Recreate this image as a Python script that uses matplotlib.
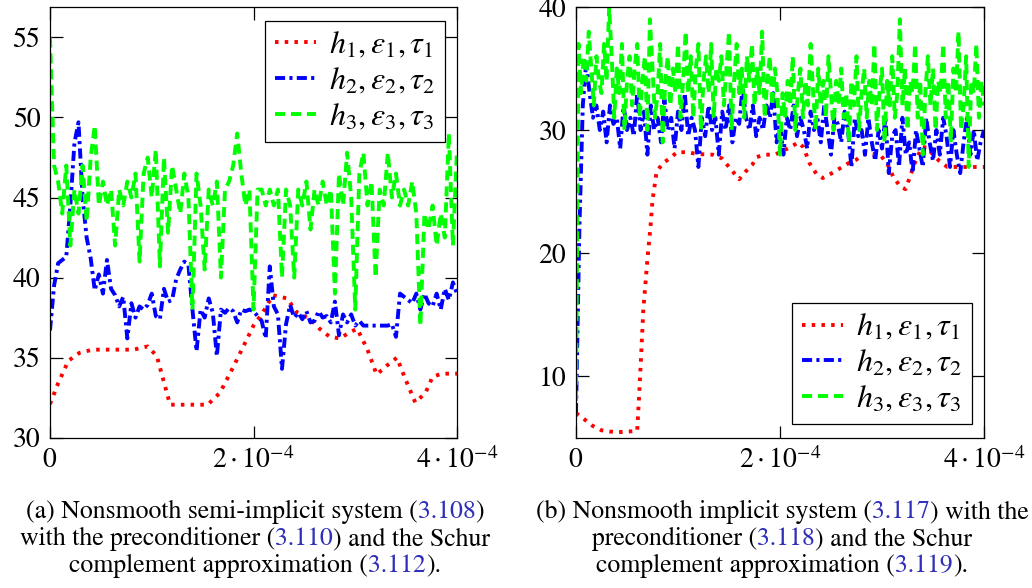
import numpy as np
import matplotlib
matplotlib.use('Agg')
import matplotlib.pyplot as plt

plt.rcParams['font.family'] = ['STIXGeneral', 'DejaVu Serif']
plt.rcParams['mathtext.fontset'] = 'stix'

# ---------------- data : panel (a) ----------------
red_a_x = [0, 0.08, 0.18, 0.29, 0.42, 0.82, 0.96, 1.05, 1.18, 1.55, 1.67, 1.80, 2.0, 2.09, 2.19,
           2.33, 2.43, 2.56, 2.65, 2.75, 2.85, 2.95, 3.02, 3.12, 3.21, 3.31, 3.41, 3.49, 3.59,
           3.69, 3.76, 3.85, 4.0]
red_a_y = [32.1, 33.4, 34.8, 35.3, 35.5, 35.5, 35.7, 35.1, 32.06, 32.06, 32.8, 34.4, 37.0, 37.8,
           38.9, 38.7, 37.8, 37.4, 36.8, 36.3, 36.2, 36.6, 36.8, 35.5, 33.95, 34.5, 35.0, 33.7,
           32.2, 32.8, 33.8, 34.0, 34.0]
blue_a = [36.7, 39.5, 40.9, 41.1, 41.3, 44.5, 48.4, 49.7, 45.0, 42.5, 41.2, 39.2, 40.2, 39.0,
          41.1, 39.3, 38.9, 38.2, 38.8, 36.2, 38.4, 37.5, 38.2, 38.0, 38.3, 39.0, 37.6, 37.4,
          39.3, 38.5, 38.6, 39.9, 40.5, 41.0, 40.8, 38.0, 35.4, 38.0, 37.5, 38.7, 37.8, 35.1,
          38.0, 37.8, 38.1, 37.9, 37.2, 38.0, 37.9, 38.0, 37.9, 37.6, 37.3, 36.2, 40.7, 38.2,
          37.7, 34.3, 37.1, 38.3, 37.5, 37.8, 37.4, 37.9, 37.2, 37.3, 37.9, 37.5, 37.6, 37.2,
          38.5, 36.4, 37.7, 37.2, 37.7, 37.0, 37.3, 37.0, 37.0, 37.0, 37.0, 37.0, 37.0, 37.0,
          37.1, 36.3, 39.0, 38.8, 38.6, 38.4, 39.0, 38.0, 39.0, 38.4, 38.2, 39.0, 38.0, 39.3,
          38.6, 39.7, 39.0]
green_a = [55, 47, 46, 44, 47, 42, 45.5, 44, 47, 43.5, 47.5, 49.5, 44.5, 46, 44.5, 45.5, 42,
           45.5, 44.5, 46, 45, 46.5, 41, 46.5, 47.5, 45, 48, 40.7, 47.5, 42.8, 47, 45.5, 44,
           46.5, 45, 38, 46.5, 44.5, 40.5, 45.5, 44.5, 46, 40, 45.5, 46, 47, 49, 46.5, 44.5,
           45.5, 38, 45.5, 45.5, 44.5, 45.5, 44.5, 45.5, 40, 45.5, 44.5, 40, 45.5, 44.5, 46,
           43, 45.5, 44.5, 46, 44.5, 45.5, 39, 46.5, 44.5, 47.8, 45, 38, 46.5, 47.8, 44.5, 46,
           40, 45.5, 44.5, 47.8, 45, 46.5, 44.5, 45.5, 44.5, 46, 44, 37, 44, 43, 44.5, 42, 44,
           42.5, 49, 42, 48]

# ---------------- data : panel (b) ----------------
red_b_x = [0, 0.09, 0.16, 0.25, 0.33, 0.42, 0.51, 0.60, 0.62, 0.64, 0.66, 0.70, 0.73, 0.75,
           0.79, 0.85, 0.92, 0.99, 1.09, 1.19, 1.34, 1.43, 1.54, 1.60, 1.66, 1.73, 1.77, 1.85,
           1.95, 2.10, 2.18, 2.23, 2.29, 2.36, 2.42, 2.51, 2.59, 2.67, 2.75, 2.81, 2.88, 2.98,
           3.05, 3.11, 3.18, 3.23, 3.27, 3.32, 3.39, 3.44, 3.50, 3.56, 3.64, 3.76, 4.0]
red_b_y = [7.0, 6.44, 5.98, 5.6, 5.5, 5.45, 5.5, 5.55, 8.6, 11.9, 15.4, 19.5, 22.1, 24.3,
           26.6, 27.3, 27.7, 28.2, 28.2, 28.05, 28.0, 27.7, 26.6, 26.0, 26.6, 27.2, 27.8, 28.0,
           28.0, 28.6, 29.0, 28.6, 27.3, 26.4, 26.1, 26.5, 26.9, 27.3, 27.6, 28.0, 28.1, 28.0,
           27.3, 26.2, 25.4, 25.2, 26.1, 27.3, 28.6, 28.6, 28.0, 27.5, 27.0, 27.0, 27.0]
blue_b = [7, 22, 32, 35.5, 33, 31,
          32, 30, 31.5, 29, 32, 30.5, 31, 28.5, 32, 30, 31, 29.5, 33,
          30, 31.5, 28, 32, 30, 31, 29, 32.5, 30, 31, 28.5, 31.5, 30, 33, 29.5, 31, 30,
          27, 31, 29.5, 32, 30, 31, 28, 31.5, 30, 32, 29, 31, 30.5, 33.5, 31, 30, 32, 29.5,
          31, 30, 32, 31, 33, 29,
          30.5, 28, 31, 30, 32, 29.5, 31, 30, 28.5, 31.5, 30, 31, 29, 32, 30, 28, 31, 30.5,
          29, 31.5, 30, 27, 31, 29.5, 30, 28,
          31, 29, 27.5, 30, 28.5, 31, 26.5, 29.5, 30, 27, 31, 28, 29, 26.5, 30, 28.5, 27, 31,
          29, 27.5, 30, 28, 31, 29.5, 27, 30, 28, 26.5, 29, 31, 28, 30, 27.5, 29, 30]
green_b = [8, 37, 33, 36, 34, 38, 35, 32, 36, 34,
           33, 37, 34, 40, 36, 31, 35, 33, 37, 30, 34, 36, 32, 35, 37, 31,
           34, 36, 30, 39, 35, 31, 33, 37, 29, 34, 36, 32, 35, 33, 37, 31,
           34, 38, 33, 36, 31, 35, 37, 30, 34, 36, 33, 37, 31, 35, 34,
           36, 32, 35, 38, 30, 34, 37, 33, 35, 31, 36, 34, 37, 32, 35, 33, 38, 31, 34, 36, 32,
           35, 33, 28,
           33, 31, 34, 32, 36, 30, 33, 35, 31, 34, 32, 37, 33, 30, 35, 32, 34, 31, 36, 33, 30,
           34, 32,
           35, 31, 33, 29, 34, 32, 36, 30, 33, 35, 31, 34, 32, 37, 30, 33, 35, 29, 34, 32, 36,
           31, 33, 39,
           32, 35, 30, 34, 33, 37, 31, 34, 28, 33, 36, 32, 35, 30, 34, 33,
           37, 31, 34, 29, 35, 33, 38, 30, 32, 36, 27, 34, 33, 37, 31, 34, 32]

labels = [r'$h_1, \varepsilon_1, \tau_1$', r'$h_2, \varepsilon_2, \tau_2$',
          r'$h_3, \varepsilon_3, \tau_3$']
xticks = [0, 2e-4, 4e-4]
xticklabels = [r'$0$', r'$2\cdot10^{-4}$', r'$4\cdot10^{-4}$']

RED, BLUE, GREEN = '#ff0000', '#0000ff', '#00ff00'
LW = 2.8
ls_red = (0, (0.9, 1.6))
ls_blue = (0, (2.6, 1.1, 0.8, 1.1))
ls_green = (0, (2.6, 1.5))

W, H = 1032, 588
fig = plt.figure(figsize=(W / 100, H / 100), dpi=100)
axa = fig.add_axes([50 / W, 1 - 437.7 / H, 407 / W, 430.7 / H])
axb = fig.add_axes([576 / W, 1 - 437.7 / H, 408 / W, 430.7 / H])


def draw(ax, rx, ry, blue, green, ylim, yticks, loc, anchor):
    ax.plot(np.array(rx) * 1e-4, ry, color=RED, lw=LW, ls=ls_red, label=labels[0])
    ax.plot(np.linspace(0, 4e-4, len(blue)), blue, color=BLUE, lw=LW, ls=ls_blue,
            label=labels[1])
    ax.plot(np.linspace(0, 4e-4, len(green)), green, color=GREEN, lw=LW, ls=ls_green,
            label=labels[2])
    ax.set_xlim(0, 4e-4)
    ax.set_ylim(*ylim)
    ax.set_xticks(xticks)
    ax.set_xticklabels(xticklabels)
    ax.set_yticks(yticks)
    ax.tick_params(which='both', direction='in', top=True, right=True, length=9,
                   width=0.9, labelsize=20, pad=7)
    for s in ax.spines.values():
        s.set_linewidth(0.9)
    leg = ax.legend(loc=loc, bbox_to_anchor=anchor, fontsize=23, frameon=True,
                    fancybox=False, edgecolor='black', framealpha=1, handlelength=1.3,
                    borderpad=0.3, labelspacing=0.18, handletextpad=0.4, borderaxespad=0)
    leg.get_frame().set_linewidth(0.9)


draw(axa, red_a_x, red_a_y, blue_a, green_a, (30, 56.9), [30, 35, 40, 45, 50, 55],
     'upper right', (0.9705, 0.9675))
draw(axb, red_b_x, red_b_y, blue_b, green_b, (5, 40), [10, 20, 30, 40],
     'lower right', (0.9706, 0.0318))

# ---------------- captions ----------------
CAP_BLUE = '#2e2eb8'
captions_a = [("(a) Nonsmooth semi-implicit system (", "3.108", ")"),
              ("with the preconditioner (", "3.110", ") and the Schur"),
              ("complement approximation (", "3.112", ").")]
captions_b = [("(b) Nonsmooth implicit system (", "3.117", ") with the"),
              ("preconditioner (", "3.118", ") and the Schur"),
              ("complement approximation (", "3.119", ").")]

renderer = fig.canvas.get_renderer()
CAP_SIZE = 18.5


def width(s):
    t = fig.text(0, 0, s, fontsize=CAP_SIZE, transform=None)
    w = t.get_window_extent(renderer).width
    t.remove()
    return w


def caption(lines, cx, baselines):
    for (a, b, c), yb in zip(lines, baselines):
        total = width(a + b + c)
        x0 = cx - total / 2
        wa = width(a)
        wab = width(a + b)
        y = H - yb
        fig.text(x0, y, a, fontsize=CAP_SIZE, color='black', va='baseline', transform=None)
        fig.text(x0 + wa, y, b, fontsize=CAP_SIZE, color=CAP_BLUE, va='baseline',
                 transform=None)
        fig.text(x0 + wab, y, c, fontsize=CAP_SIZE, color='black', va='baseline',
                 transform=None)


caption(captions_a, 255, [518, 545, 572])
caption(captions_b, 782, [518, 545, 572])

fig.savefig('out.png', dpi=100)
